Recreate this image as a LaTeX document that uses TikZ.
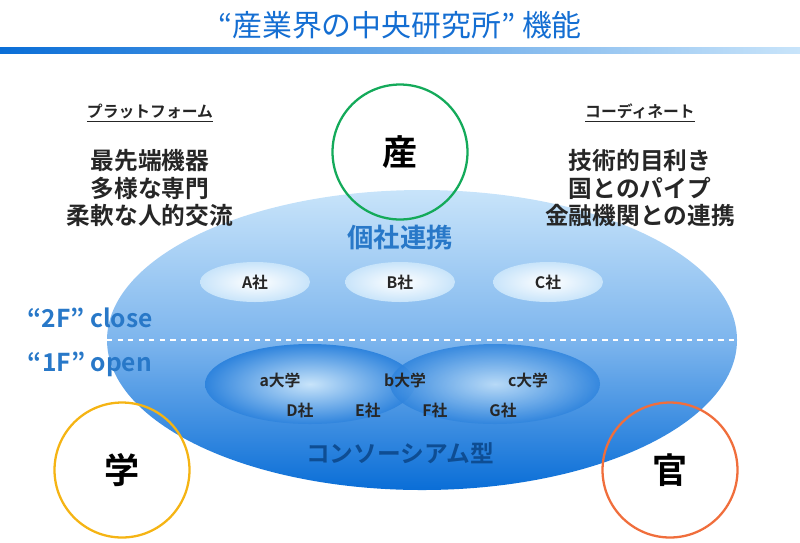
\documentclass[tikz,border=0pt]{standalone}
\usepackage{fontspec}
\setmainfont{Noto Sans CJK JP}[BoldFont={Noto Sans CJK JP Bold}]
\usetikzlibrary{positioning}
\definecolor{titleblue}{RGB}{20,110,210}
\definecolor{darkblue}{RGB}{10,110,215}
\definecolor{midblue}{RGB}{70,150,230}
\definecolor{paleblue}{RGB}{200,228,250}
\definecolor{textblue}{RGB}{40,120,200}
\definecolor{sangreen}{RGB}{20,170,90}
\definecolor{gakugold}{RGB}{245,180,20}
\definecolor{kanorange}{RGB}{240,110,60}
\tikzstyle{plain} = [font=\bfseries\fontsize{13.5}{15.5}\selectfont, text=black!85, align=center]
\tikzstyle{firm} = [font=\bfseries\fontsize{9}{10}\selectfont, text=black!85]
\tikzstyle{floor} = [font=\bfseries\fontsize{14}{16}\selectfont, text=textblue]
\tikzstyle{party} = [circle, line width=1.3pt, minimum size=2.7cm, font=\bfseries\fontsize{20}{22}\selectfont]
\begin{document}
\begin{tikzpicture}[x=0.02cm, y=-0.02cm]
			\useasboundingbox (0,0) rectangle (800,542);
			% Title and bar
			\node (title) at (400,25) [font=\fontsize{17}{19}\selectfont, text=titleblue] {“産業界の中央研究所” 機能};
			\shade [left color=darkblue, right color=paleblue] (0,47) rectangle (800,53);

			% Main ellipse
			\shade [top color=paleblue, bottom color=darkblue, middle color=midblue!70] (422,340) ellipse [x radius=315, y radius=150];
			\draw [white, dashed, line width=0.6pt] (107,340) -- (737,340);
			\foreach \x/\n in {255/A, 400/B, 548/C}
				\shade [inner color=white, outer color=paleblue] (\x,282) ellipse [x radius=55, y radius=20];
			\shade [inner color=paleblue, outer color=darkblue!85] (310,384) ellipse [x radius=105, y radius=40];
			\shade [inner color=paleblue, outer color=darkblue!85, opacity=0.85] (495,384) ellipse [x radius=105, y radius=40];

			% Labels in the ellipse
			\node (kosha) at (400,238) [floor, font=\bfseries\fontsize{15}{17}\selectfont] {個社連携};
			\node (A) at (255,282) [firm] {A社};
			\node (B) at (400,282) [firm] {B社};
			\node (C) at (548,282) [firm] {C社};
			\node (a) at (280,380) [firm] {a大学};
			\node (b) at (405,380) [firm] {b大学};
			\node (c) at (528,380) [firm] {c大学};
			\node (D) at (300,410) [firm] {D社};
			\node (E) at (368,410) [firm] {E社};
			\node (F) at (435,410) [firm] {F社};
			\node (G) at (503,410) [firm] {G社};
			\node (consortium) at (400,453) [font=\bfseries\fontsize{13.5}{15}\selectfont, text=titleblue!70!black] {コンソーシアム型};
			\node (close) at (90,318) [floor] {“2F” close};
			\node (open) at (90,364) [floor] {“1F” open};

			% Side texts
			\node (platform) at (150,113) [plain, font=\bfseries\fontsize{9}{10}\selectfont] {\underline{プラットフォーム}};
			\node (platlist) [plain, below=0.3cm of platform] {最先端機器\\多様な専門\\柔軟な人的交流};
			\node (coord) at (640,113) [plain, font=\bfseries\fontsize{9}{10}\selectfont] {\underline{コーディネート}};
			\node (coordlist) [plain, below=0.3cm of coord] {技術的目利き\\国とのパイプ\\金融機関との連携};

			% Circles
			\node (san) at (400,152) [party, draw=sangreen] {産};
			\node (gaku) at (122,470) [party, draw=gakugold] {学};
			\node (kan) at (670,470) [party, draw=kanorange] {官};
		\end{tikzpicture}
\end{document}
